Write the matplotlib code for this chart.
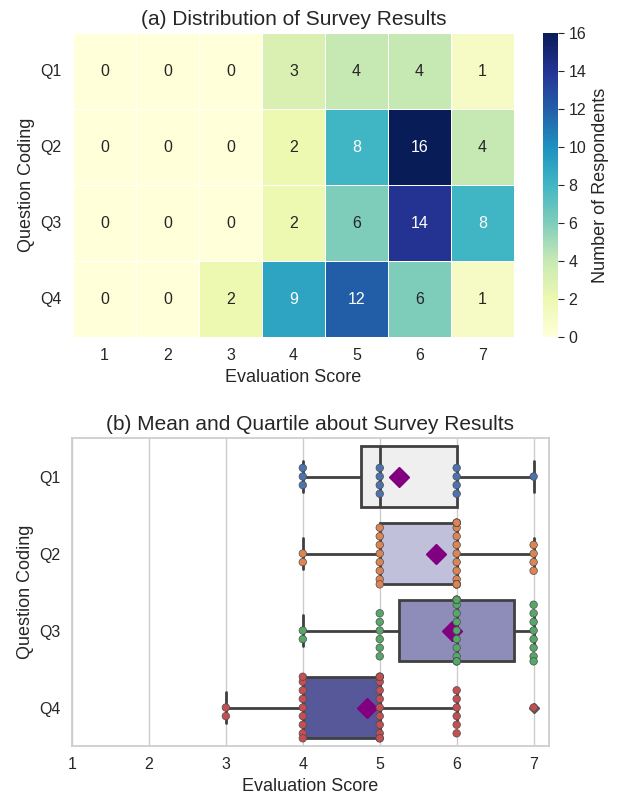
import matplotlib
matplotlib.use("Agg")
import matplotlib.pyplot as plt
import numpy as np
import pandas as pd
import seaborn as sns

# counts of respondents per question (rows) and score 1..7 (columns)
questions = ["Q1", "Q2", "Q3", "Q4"]
scores = [1, 2, 3, 4, 5, 6, 7]
q1_counts = [0, 0, 0, 3, 4, 4, 1]
q2_counts = [0, 0, 0, 2, 8, 16, 4]
q3_counts = [0, 0, 0, 2, 6, 14, 8]
q4_counts = [0, 0, 2, 9, 12, 6, 1]

sns.set_theme(style="whitegrid")
plt.rcParams["font.family"] = ["Liberation Sans", "DejaVu Sans"]

counts = pd.DataFrame([q1_counts, q2_counts, q3_counts, q4_counts],
                      index=questions, columns=scores)

# expand counts into one row per respondent for the box / swarm plot
rows = []
for q in questions:
    for s in scores:
        rows += [(q, s)] * int(counts.loc[q, s])
long_df = pd.DataFrame(rows, columns=["question", "score"])

box_colors = ["#efefef", "#c1c0da", "#8e8dba", "#57589a"]

fig = plt.figure(figsize=(6.2, 7.99), dpi=100)
ax_hm = fig.add_axes([0.1177, 0.5782, 0.7113, 0.3805])
ax_cb = fig.add_axes([0.8758, 0.5782, 0.0242, 0.3805])
ax_box = fig.add_axes([0.1161, 0.0663, 0.7694, 0.3855])

# (a) heatmap
sns.heatmap(counts, ax=ax_hm, cbar_ax=ax_cb, cmap="YlGnBu", vmin=0, vmax=16,
            annot=True, fmt="d", annot_kws={"fontsize": 11.5},
            linewidths=0.6, linecolor="white",
            cbar_kws={"label": "Number of Respondents", "ticks": range(0, 17, 2)})
ax_hm.set_title("(a) Distribution of Survey Results", fontsize=15, pad=6)
ax_hm.set_xlabel("Evaluation Score", fontsize=13)
ax_hm.set_ylabel("Question Coding", fontsize=13)
ax_hm.tick_params(axis="both", labelsize=11.5, length=0, pad=8)
ax_hm.set_yticklabels(questions, rotation=0)
ax_cb.tick_params(right=True, length=4, width=0.8, labelsize=11.5, color="0.15")
ax_cb.yaxis.label.set_size(13)

# (b) box + swarm
sns.boxplot(data=long_df, x="score", y="question", hue="question", palette=box_colors,
            saturation=1, legend=False, ax=ax_box, width=0.8, linewidth=2,
            linecolor="0.25", showmeans=True,
            flierprops={"marker": "D", "markerfacecolor": "#c44e52",
                        "markeredgecolor": "0.3", "markersize": 5},
            meanprops={"marker": "D", "markerfacecolor": "purple",
                       "markeredgecolor": "purple", "markersize": 10})
sns.swarmplot(data=long_df, x="score", y="question", hue="question", palette="deep",
              legend=False, ax=ax_box, size=5.4, edgecolor="0.3", linewidth=0.5)
ax_box.set_xlim(1, 7.2)
ax_box.set_xticks(scores)
ax_box.set_title("(b) Mean and Quartile about Survey Results", fontsize=15, pad=6)
ax_box.set_xlabel("Evaluation Score", fontsize=13)
ax_box.set_ylabel("Question Coding", fontsize=13)
ax_box.tick_params(axis="both", labelsize=11.5, length=0, pad=8)
ax_box.grid(axis="y", visible=False)

fig.savefig("out.png", dpi=100)
